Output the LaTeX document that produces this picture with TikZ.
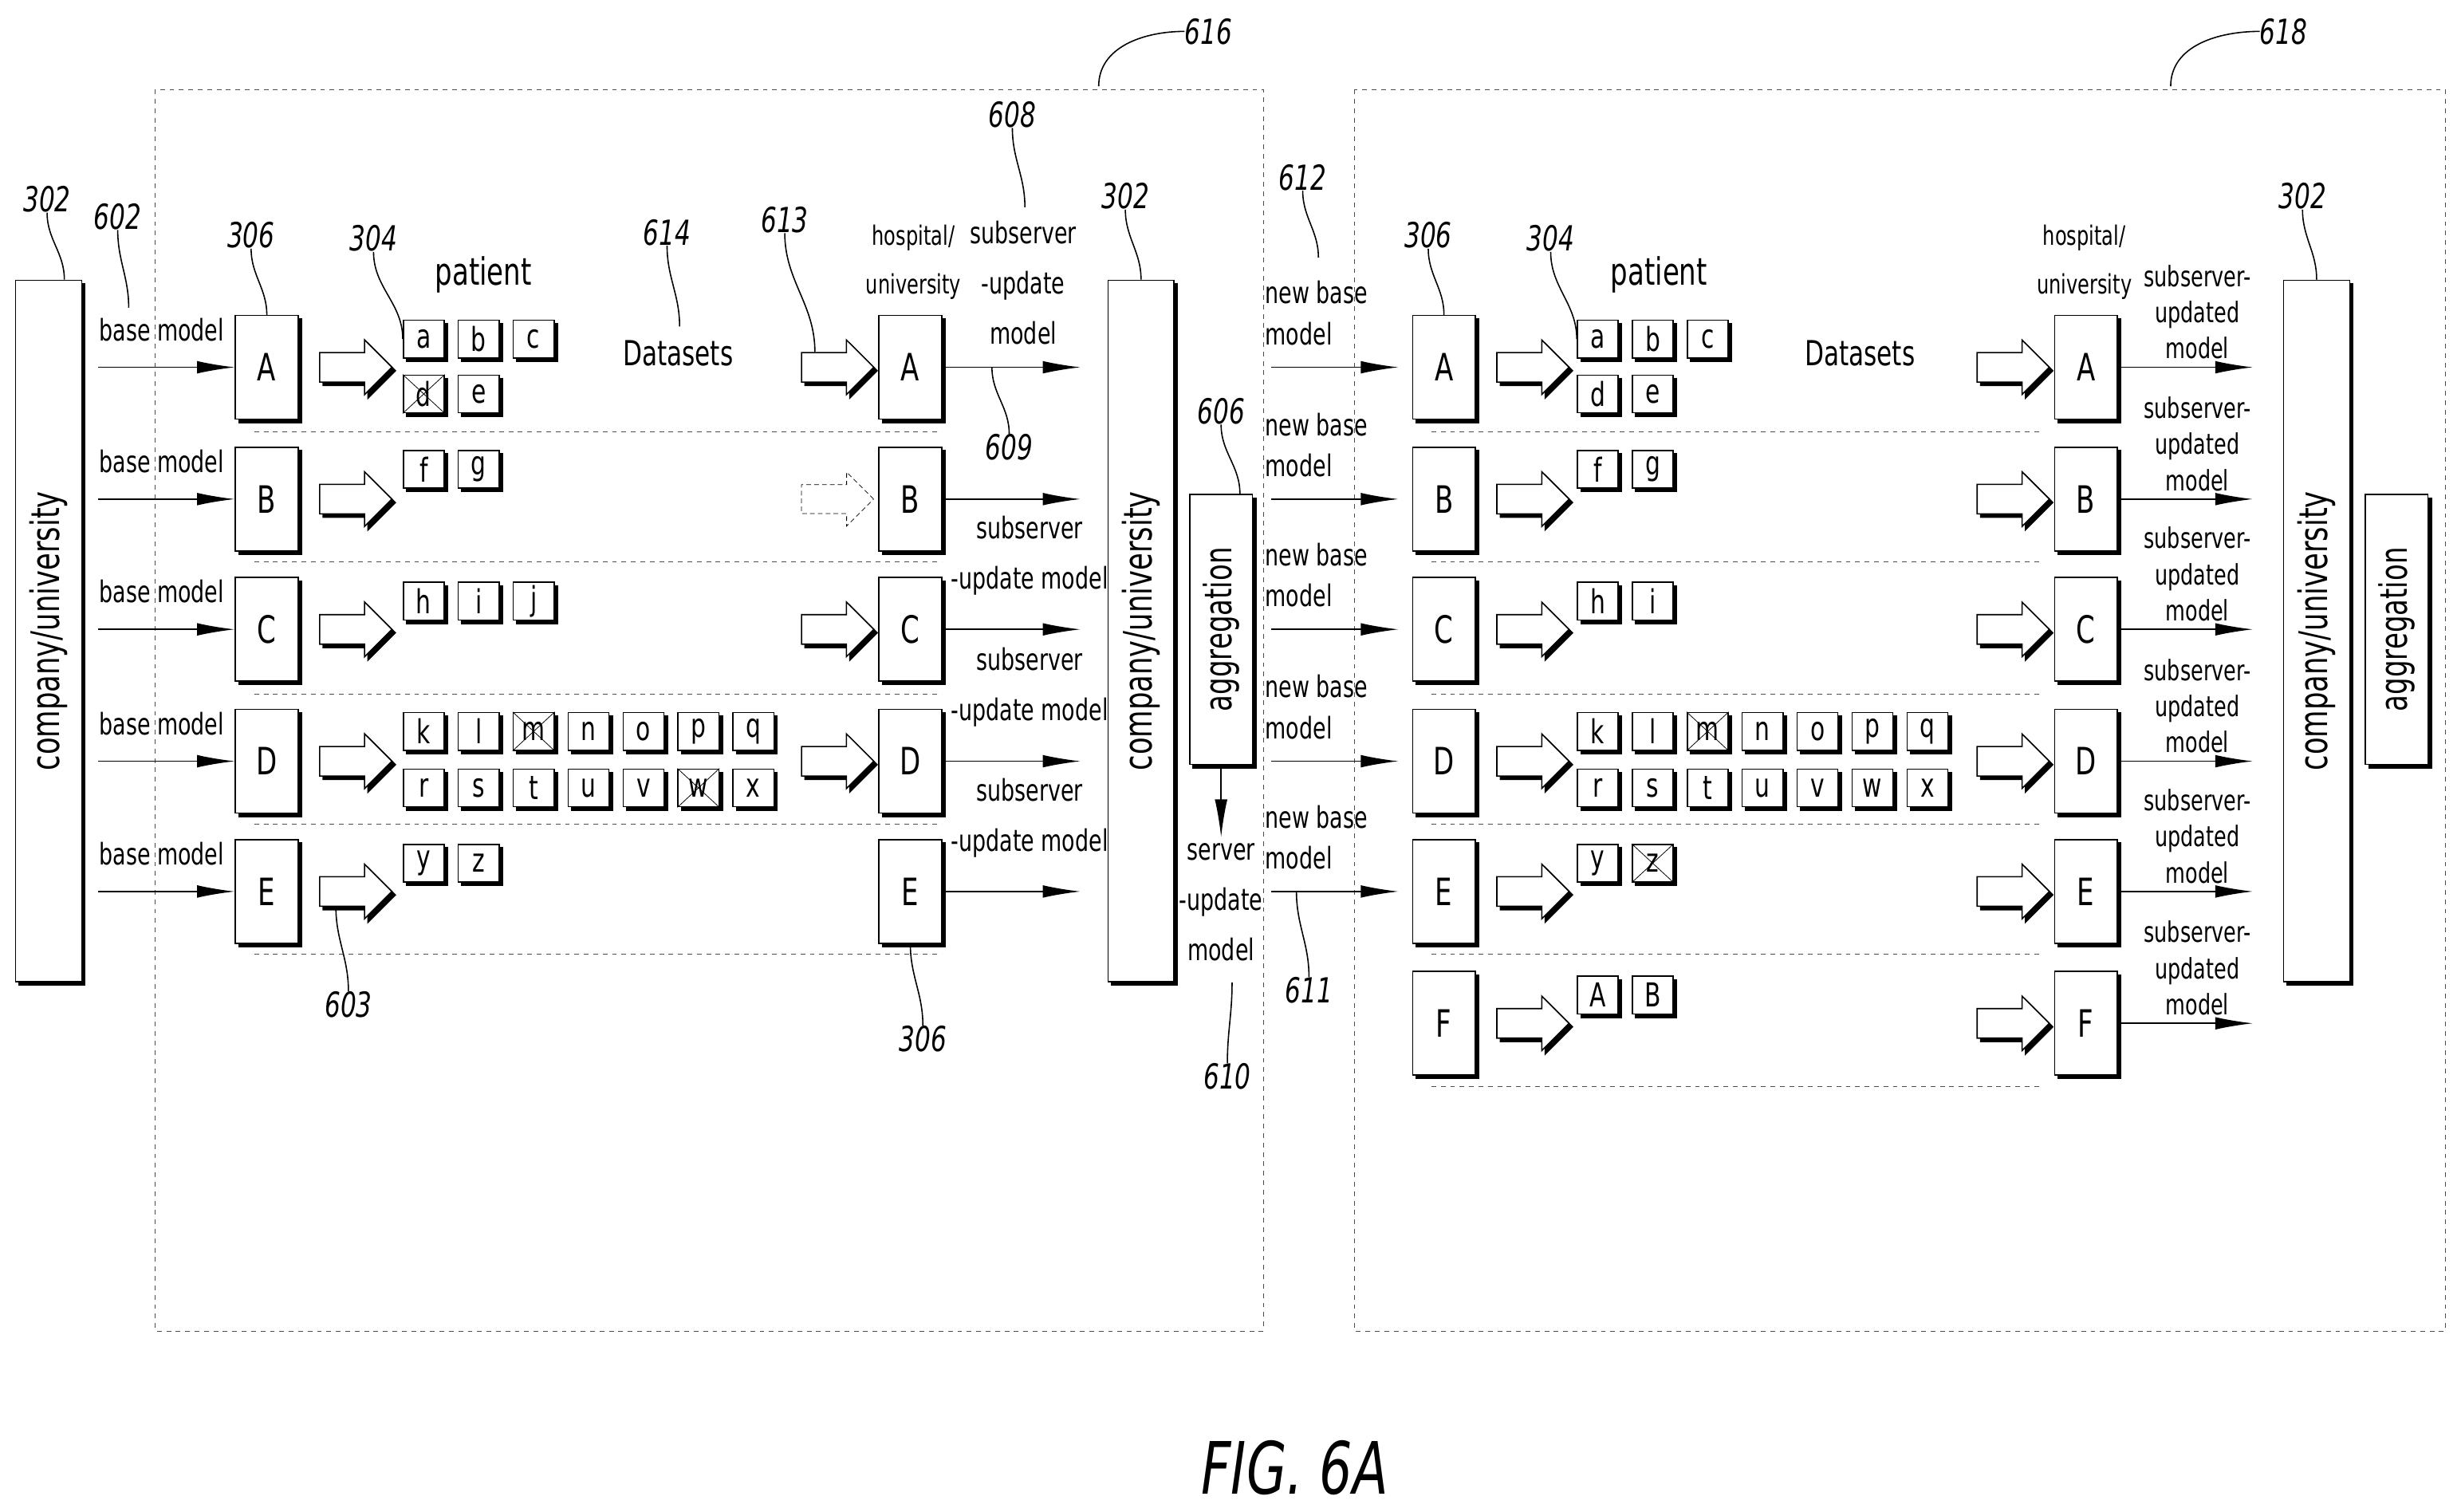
\documentclass[tikz,border=0pt]{standalone}
\usepackage{fontspec}
\setmainfont[FakeStretch=0.8]{DejaVu Sans Condensed}
\usetikzlibrary{shapes.arrows, arrows.meta, shadows}
\tikzset{
  shade/.style={copy shadow={shadow xshift=2.2pt, shadow yshift=-2.2pt, fill=black, draw=black}},
  mbox/.style={rectangle, draw, thick, fill=white, shade, minimum width=40, minimum height=66, font=\fontsize{24}{26}\selectfont},
  bar/.style={rectangle, draw, thick, fill=white, shade, minimum width=42, minimum height=447, font=\fontsize{25}{26}\selectfont},
  aggr/.style={rectangle, draw, thick, fill=white, shade, minimum width=40, minimum height=172, font=\fontsize{24}{26}\selectfont},
  cell/.style={rectangle, draw, thick, fill=white, shade, minimum width=26, minimum height=24, inner sep=0, font=\fontsize{21}{22}\selectfont},
  barrow/.style={single arrow, draw, thick, fill=white, shade, minimum height=46, minimum width=34, inner xsep=0, inner ysep=9, single arrow head extend=8pt},
  ghost/.style={single arrow, draw, densely dashed, thin, minimum height=46, minimum width=34, inner xsep=0, inner ysep=9, single arrow head extend=8pt},
  lbl/.style={align=center, inner sep=0, font=\fontsize{19}{32}\selectfont},
  nlbl/.style={align=left, inner sep=0, font=\fontsize{19}{26}\selectfont},
  tlbl/.style={align=center, inner sep=0, font=\fontsize{18}{23}\selectfont},
  ref/.style={inner sep=0, font=\fontsize{22}{24}\selectfont\itshape},
  lead/.style={thick},
  arr/.style={thick, -{Latex[length=24pt,width=8pt]}},
  panel/.style={thin, dashed, black!70},
  sep/.style={thin, dashed, black!70}
}
\newcommand{\cells}[4]{%
  \foreach \l [count=\i] in {#4} \node[cell] (#1\l) at ({#2+35*(\i-1)},#3) {\l};}
\newcommand{\xcell}[1]{\draw (#1.north west) -- (#1.south east) (#1.north east) -- (#1.south west);}
\newcommand{\callout}[4]{% name, position, text, target (label above)
  \node[ref] (#1) at (#2) {#3};
  \draw[lead] (#1.south) to[out=-90,in=90] (#4);}
\newcommand{\callup}[4]{% name, position, text, target (label below)
  \node[ref] (#1) at (#2) {#3};
  \draw[lead] (#1.north) to[out=90,in=-90] (#4);}

\begin{document}
\begin{tikzpicture}[x=1pt, y=-1pt]
  \useasboundingbox (0,0) rectangle (1568,963);

  % panels
  \draw[panel] (99,57) rectangle (805,848);
  \draw[panel] (863,57) rectangle (1558,848);

  % left panel
  \node[bar] (cl) at (31,402) {\rotatebox{90}{company/university}};
  \node[bar] (cm) at (727,402) {\rotatebox{90}{company/university}};
  \node[aggr] (ag) at (778,401) {\rotatebox{90}{aggregation}};
  \foreach \y in {275,358,442,525,608} \draw[sep] (162,\y) -- (600,\y);
  \foreach \r/\y in {A/234,B/318,C/401,D/485,E/568} {
    \node[mbox] (L\r) at (170,\y) {\r};
    \node[mbox] (H\r) at (580,\y) {\r};
    \node[barrow] (P\r) at (222,\y) {};
    \node[lbl, anchor=base] at (103,{\y-17}) {base model};
    \draw[arr] (cl.east |- L\r.west) ++(10,0) -- (L\r.west);
    \coordinate (o\r) at ([xshift=88]H\r.east);
    \draw[arr] (H\r.east) -- (o\r);
  }
  \foreach \r in {A,C,D} \node[barrow] (Q\r) at (529,0 |- H\r) {};
  \node[ghost] (QB) at (529,318) {};
  \cells{La}{270}{216}{a,b,c}
  \cells{Lb}{270}{251}{d,e}
  \cells{Lc}{270}{299}{f,g}
  \cells{Ld}{270}{383}{h,i,j}
  \cells{Le}{270}{466}{k,l,m,n,o,p,q}
  \cells{Lf}{270}{502}{r,s,t,u,v,w,x}
  \cells{Lg}{270}{550}{y,z}
  \xcell{Lbd} \xcell{Lem} \xcell{Lfw}
  \node[lbl, font=\fontsize{24}{26}\selectfont] (pat1) at (308,175) {patient};
  \node[lbl, font=\fontsize{22}{24}\selectfont] (ds1) at (432,225) {Datasets};
  \node[lbl, font=\fontsize{17}{31}\selectfont] (hu1) at (582,167) {hospital/\\university};
  \node[lbl] at (652,180) {subserver\\-update\\model};
  \foreach \y in {354,438,521} \node[lbl] at (656,\y) {subserver\\-update model};
  \node[lbl] (srv) at (778,575) {server\\-update\\model};
  \draw[arr] (ag.south) -- ([yshift=4]srv.north);

  % new base models
  \foreach \r/\y in {A/234,B/318,C/401,D/485,E/568} {
    \node[nlbl, anchor=south west] at (806,{\y-14}) {new base\\model};
    \draw[arr] (810,\y) -- (891,\y);
  }

  % right panel
  \node[bar] (cr) at (1476,402) {\rotatebox{90}{company/university}};
  \node[aggr] (agr) at (1527,401) {\rotatebox{90}{aggregation}};
  \foreach \y in {275,358,442,525,608,692} \draw[sep] (912,\y) -- (1300,\y);
  \foreach \r/\y in {A/234,B/318,C/401,D/485,E/568,F/652} {
    \node[mbox] (R\r) at (920,\y) {\r};
    \node[mbox] (S\r) at (1329,\y) {\r};
    \node[barrow] (T\r) at (972,\y) {};
    \node[barrow] (U\r) at (1278,\y) {};
    \coordinate (p\r) at ([xshift=86]S\r.east);
    \draw[arr] (S\r.east) -- (p\r);
    \node[tlbl, anchor=south] at (1400,{\y-5}) {subserver-\\updated\\model};
  }
  \cells{Ra}{1018}{216}{a,b,c}
  \cells{Rb}{1018}{251}{d,e}
  \cells{Rc}{1018}{299}{f,g}
  \cells{Rd}{1018}{383}{h,i}
  \cells{Re}{1018}{466}{k,l,m,n,o,p,q}
  \cells{Rf}{1018}{502}{r,s,t,u,v,w,x}
  \cells{Rg}{1018}{550}{y,z}
  \cells{Rh}{1018}{634}{A,B}
  \xcell{Rem} \xcell{Rgz}
  \node[lbl, font=\fontsize{24}{26}\selectfont] (pat2) at (1057,175) {patient};
  \node[lbl, font=\fontsize{22}{24}\selectfont] (ds2) at (1185,225) {Datasets};
  \node[lbl, font=\fontsize{17}{31}\selectfont] (hu2) at (1328,167) {hospital/\\university};

  % reference numerals
  \callout{n302a}{30,127}{302}{[xshift=10]cl.north}
  \callout{n602}{75,138}{602}{82,196}
  \callout{n306a}{160,150}{306}{LA.north}
  \callout{n304a}{238,152}{304}{Laa.west}
  \callout{n614}{425,148}{614}{433,208}
  \callout{n613}{500,140}{613}{QA.north west}
  \callout{n608}{645,73}{608}{653,132}
  \callout{n302b}{717,125}{302}{cm.north}
  \callout{n612}{830,113}{612}{840,164}
  \callout{n606}{778,262}{606}{[xshift=12]ag.north}
  \callout{n306b}{910,150}{306}{RA.north}
  \callout{n304b}{988,152}{304}{Raa.west}
  \callout{n302c}{1467,125}{302}{cr.north}
  \callup{n609}{643,285}{609}{632,234}
  \callup{n603}{222,640}{603}{[xshift=-8]PE.south}
  \callup{n306c}{588,662}{306}{HE.south}
  \callup{n610}{782,686}{610}{785,626}
  \callup{n611}{834,631}{611}{826,568}
  \node[ref] (n616) at (770,20) {616};
  \draw[lead] (700,55) to[out=90,in=180] (n616.west);
  \node[ref] (n618) at (1455,20) {618};
  \draw[lead] (1383,55) to[out=90,in=180] (n618.west);

  \node[ref, font=\fontsize{46}{48}\selectfont\itshape] (fig) at (825,935) {FIG. 6A};
\end{tikzpicture}
\end{document}
